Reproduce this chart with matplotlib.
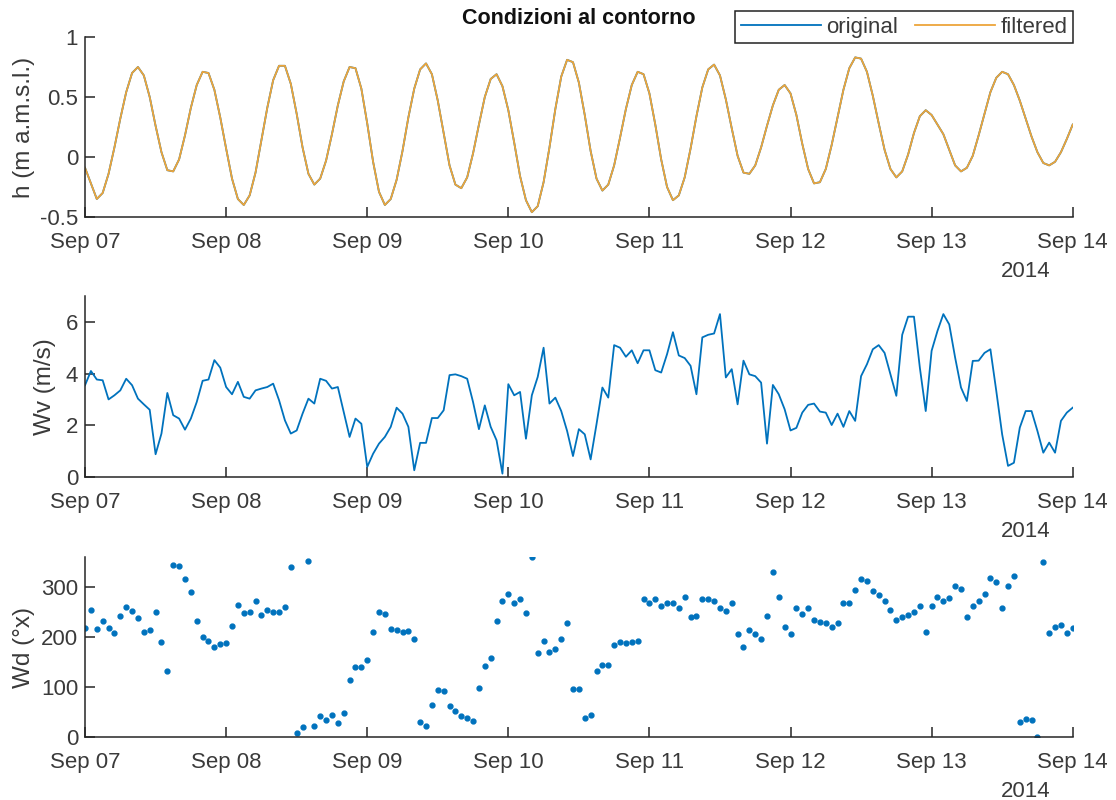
import matplotlib
matplotlib.use("Agg")
import matplotlib.pyplot as plt
import matplotlib.dates as mdates
import pandas as pd

plt.rcParams['font.family'] = ['Liberation Sans', 'DejaVu Sans']

# hourly samples, 2014-09-07 00:00 .. 2014-09-14 00:00
times = pd.date_range('2014-09-07 00:00', periods=169, freq='h')

# water level h (m a.m.s.l.)
h_filtered = [
    -0.09, -0.22, -0.35, -0.30, -0.14, 0.08, 0.32, 0.54, 0.70, 0.75,
    0.68, 0.50, 0.26, 0.04, -0.11, -0.12, -0.02, 0.18, 0.41, 0.60,
    0.71, 0.70, 0.56, 0.33, 0.07, -0.18, -0.35, -0.40, -0.32, -0.13,
    0.14, 0.41, 0.64, 0.76, 0.76, 0.61, 0.36, 0.08, -0.14, -0.23,
    -0.18, -0.03, 0.19, 0.43, 0.63, 0.75, 0.74, 0.57, 0.28, -0.04,
    -0.29, -0.40, -0.35, -0.19, 0.05, 0.33, 0.57, 0.73, 0.78, 0.69,
    0.47, 0.20, -0.07, -0.23, -0.26, -0.17, 0.03, 0.27, 0.50, 0.65,
    0.69, 0.59, 0.39, 0.12, -0.16, -0.36, -0.46, -0.41, -0.21, 0.08,
    0.40, 0.67, 0.81, 0.79, 0.62, 0.35, 0.05, -0.18, -0.28, -0.23,
    -0.07, 0.16, 0.40, 0.60, 0.71, 0.69, 0.53, 0.27, -0.02, -0.25,
    -0.36, -0.32, -0.17, 0.07, 0.34, 0.58, 0.73, 0.77, 0.68, 0.48,
    0.24, 0.01, -0.13, -0.14, -0.07, 0.08, 0.26, 0.43, 0.56, 0.60,
    0.53, 0.35, 0.11, -0.10, -0.22, -0.21, -0.10, 0.10, 0.33, 0.56,
    0.74, 0.83, 0.82, 0.71, 0.51, 0.28, 0.06, -0.10, -0.17, -0.12,
    0.02, 0.20, 0.34, 0.39, 0.35, 0.27, 0.19, 0.06, -0.07, -0.12,
    -0.09, 0.01, 0.18, 0.36, 0.54, 0.66, 0.71, 0.69, 0.60, 0.47,
    0.32, 0.17, 0.04, -0.05, -0.07, -0.04, 0.04, 0.15, 0.27,
]
h_original = list(h_filtered)

# wind speed Wv (m/s)
wv = [
    3.55, 4.10, 3.77, 3.74, 3.00, 3.16, 3.35, 3.80, 3.55, 3.03,
    2.81, 2.60, 0.88, 1.68, 3.25, 2.39, 2.26, 1.83, 2.26, 2.90,
    3.72, 3.77, 4.52, 4.23, 3.48, 3.20, 3.68, 3.10, 3.03, 3.35,
    3.42, 3.48, 3.61, 2.97, 2.19, 1.68, 1.80, 2.45, 3.03, 2.84,
    3.80, 3.72, 3.42, 3.48, 2.52, 1.55, 2.26, 2.06, 0.39, 0.90,
    1.29, 1.55, 1.94, 2.68, 2.45, 1.94, 0.26, 1.32, 1.32, 2.28,
    2.28, 2.58, 3.94, 3.97, 3.90, 3.80, 2.90, 1.85, 2.77, 1.94,
    1.42, 0.13, 3.59, 3.16, 3.29, 1.48, 3.16, 3.87, 5.00, 2.84,
    3.07, 2.55, 1.78, 0.81, 1.85, 1.65, 0.68, 2.04, 3.46, 3.07,
    5.10, 5.00, 4.65, 4.90, 4.40, 4.90, 4.90, 4.13, 4.04, 4.75,
    5.60, 4.70, 4.60, 4.30, 3.20, 5.40, 5.50, 5.55, 6.30, 3.85,
    4.17, 2.81, 4.50, 3.97, 3.90, 3.65, 1.29, 3.56, 3.20, 2.62,
    1.80, 1.90, 2.49, 2.79, 2.84, 2.53, 2.49, 2.01, 2.45, 1.94,
    2.55, 2.17, 3.90, 4.36, 4.94, 5.10, 4.80, 3.97, 3.14, 5.50,
    6.20, 6.20, 4.23, 2.55, 4.88, 5.65, 6.30, 5.90, 4.62, 3.46,
    2.94, 4.49, 4.50, 4.80, 4.94, 3.33, 1.65, 0.43, 0.55, 1.91,
    2.55, 2.55, 1.78, 0.94, 1.33, 0.94, 2.17, 2.49, 2.68,
]

# wind direction Wd (deg)
wd = [
    219, 255, 217, 232, 219, 209, 243, 260, 252, 239,
    210, 215, 250, 190, 132, 345, 343, 316, 291, 232,
    200, 192, 181, 187, 188, 223, 265, 248, 250, 273,
    245, 255, 250, 251, 261, 341, 8, 20, 352, 23,
    43, 35, 45, 29, 49, 115, 141, 141, 155, 211,
    250, 247, 217, 215, 210, 213, 197, 30, 22, 65,
    95, 93, 62, 52, 43, 39, 33, 99, 143, 159,
    233, 273, 287, 268, 277, 248, 360, 168, 193, 170,
    176, 197, 228, 97, 96, 39, 44, 132, 144, 144,
    185, 190, 188, 190, 192, 277, 269, 276, 262, 269,
    268, 259, 281, 240, 242, 276, 277, 272, 259, 252,
    268, 206, 181, 214, 206, 197, 243, 331, 281, 220,
    206, 259, 247, 259, 235, 231, 229, 220, 229, 269,
    269, 295, 317, 312, 293, 284, 272, 255, 235, 240,
    245, 250, 262, 211, 262, 281, 272, 279, 303, 296,
    240, 262, 272, 286, 318, 310, 259, 303, 323, 30,
    36, 34, 0, 350, 209, 220, 224, 209, 218,
]

BLUE = '#0072BD'
GOLD = '#EDA53A'
GREY = '#3a3a3a'
TICK_FS = 16
LABEL_FS = 17.5

fig = plt.figure(figsize=(11.16, 8), dpi=100)
ax1 = fig.add_axes([0.0762, 0.72875, 0.885, 0.225])
ax2 = fig.add_axes([0.0762, 0.40375, 0.885, 0.22625])
ax3 = fig.add_axes([0.0762, 0.07875, 0.885, 0.225])

l1, = ax1.plot(times, h_original, color=BLUE, lw=1.3, label='original')
l2, = ax1.plot(times, h_filtered, color=GOLD, lw=1.3, label='filtered')
ax1.set_ylim(-0.5, 1)
ax1.set_yticks([-0.5, 0, 0.5, 1])
ax1.set_yticklabels(['-0.5', '0', '0.5', '1'])
ax1.set_ylabel('h (m a.m.s.l.)')

ax2.plot(times, wv, color=BLUE, lw=1.3)
ax2.set_ylim(0, 7)
ax2.set_yticks([0, 2, 4, 6])
ax2.set_ylabel('Wv (m/s)')

ax3.plot(times, wd, '.', color=BLUE, markersize=7)
ax3.set_ylim(0, 360)
ax3.set_yticks([0, 100, 200, 300])
ax3.set_ylabel('Wd (°x)')

label_x = {ax1: -0.0506, ax2: -0.0294, ax3: -0.0506}

for ax in (ax1, ax2, ax3):
    ax.set_xlim(times[0], times[-1])
    ax.xaxis.set_major_locator(mdates.DayLocator())
    ax.xaxis.set_major_formatter(mdates.DateFormatter('%b %d'))
    ax.spines['top'].set_visible(False)
    ax.spines['right'].set_visible(False)
    for s in ('left', 'bottom'):
        ax.spines[s].set_color('#262626')
        ax.spines[s].set_linewidth(1.1)
    ax.tick_params(direction='in', length=7, width=1.1, colors='#262626',
                   labelcolor=GREY, labelsize=TICK_FS)
    ax.tick_params(axis='x', pad=11)
    ax.tick_params(axis='y', pad=5)
    ax.yaxis.label.set_color(GREY)
    ax.yaxis.label.set_size(LABEL_FS)
    ax.yaxis.set_label_coords(label_x[ax], 0.5)
    ax.annotate('2014', xy=(0.978, 0), xycoords='axes fraction',
                xytext=(0, -39), textcoords='offset points',
                ha='right', va='center', fontsize=TICK_FS, color=GREY)

fig.text(0.5188, 0.9775, 'Condizioni al contorno', ha='center', va='center',
         fontsize=15.5, fontweight='bold', color='#111111')

leg = fig.legend(handles=[l1, l2], loc='upper right', ncol=2,
                 bbox_to_anchor=(1073 / 1116, 1 - 11 / 800),
                 fontsize=TICK_FS, frameon=True, fancybox=False, framealpha=1,
                 edgecolor='#222222', handlelength=3.6, handletextpad=0.23,
                 columnspacing=0.8, borderpad=0.25, borderaxespad=0)
leg.get_frame().set_linewidth(1.1)
for t in leg.get_texts():
    t.set_color(GREY)

fig.savefig('out.png', dpi=100, facecolor='white')
